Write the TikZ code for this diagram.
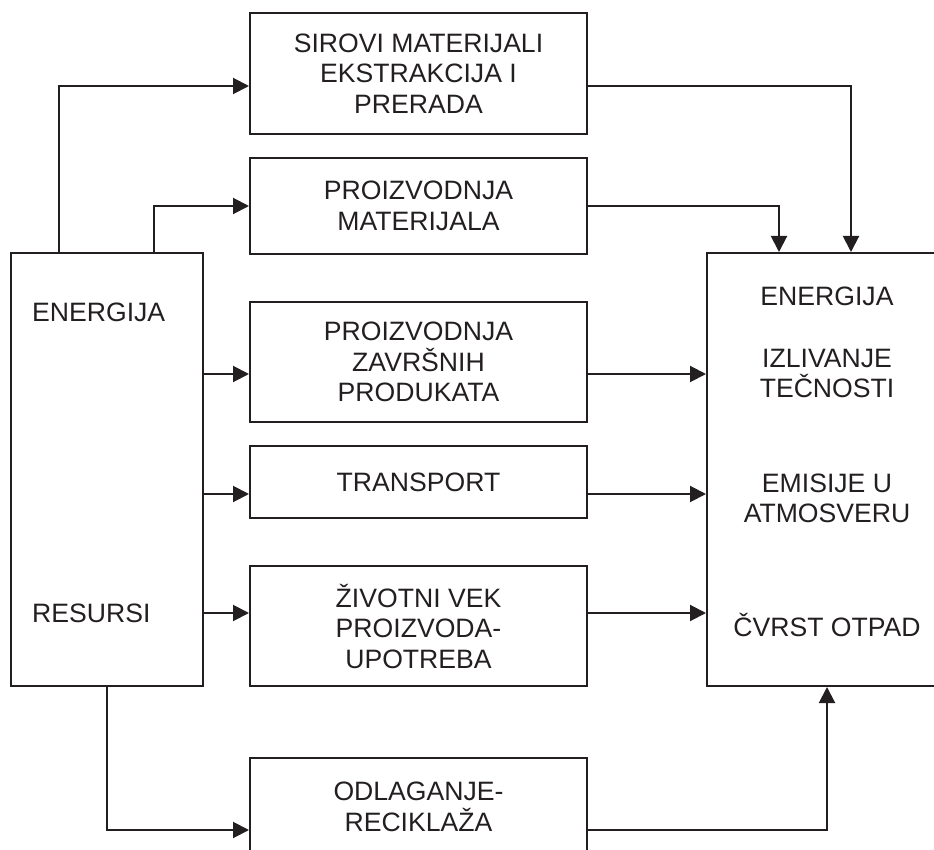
\documentclass[tikz,border=0pt]{standalone}
\usepackage{fontspec}
\setmainfont{Liberation Sans}
\usetikzlibrary{arrows.meta}
\definecolor{ink}{HTML}{231F20}
\tikzset{
  box/.style={draw=ink, line width=2pt, rectangle, inner sep=0pt, align=center, text=ink,
              font=\fontsize{26.6}{30.5}\selectfont},
  lbl/.style={inner sep=0pt, align=center, text=ink, font=\fontsize{26.6}{30.5}\selectfont},
  conn/.style={draw=ink, line width=2pt},
  arr/.style={conn, -{Triangle[length=16pt,width=16pt]}}
}
\begin{document}
\begin{tikzpicture}[x=1pt, y=-1pt]
\useasboundingbox (0,0) rectangle (934,850);
\clip (0,0) rectangle (934,850);
% boxes
\node[box, minimum width=337pt, minimum height=121pt] (src) at (418.5,73.5)
  {SIROVI MATERIJALI\\EKSTRAKCIJA I\\PRERADA};
\node[box, minimum width=337pt, minimum height=96pt] (pmat) at (418.5,206)
  {PROIZVODNJA\\MATERIJALA};
\node[box, minimum width=337pt, minimum height=120pt] (pzav) at (418.5,362)
  {PROIZVODNJA\\ZAVRŠNIH\\PRODUKATA};
\node[box, minimum width=337pt, minimum height=72pt] (trans) at (418.5,482)
  {TRANSPORT};
\node[box, minimum width=337pt, minimum height=120pt] (ziv) at (418.5,626)
  {ŽIVOTNI VEK\\PROIZVODA-\\UPOTREBA};
\node[box, minimum width=337pt, minimum height=98pt] (odl) at (418.5,807)
  {ODLAGANJE-\\RECIKLAŽA};
\node[box, minimum width=192pt, minimum height=433pt] (left) at (107,469.5) {};
\node[box, minimum width=240pt, minimum height=433pt] (right) at (827,469.5) {};
% texts in left box
\node[lbl, anchor=west] (len) at (32,312) {ENERGIJA};
\node[lbl, anchor=west] (lres) at (32,613) {RESURSI};
% texts in right box
\node[lbl] (ren) at (827,296) {ENERGIJA};
\node[lbl] (riz) at (827,373.5) {IZLIVANJE\\TEČNOSTI};
\node[lbl] (rem) at (827,498.5) {EMISIJE U\\ATMOSVERU};
\node[lbl] (rcv) at (827,625) {ČVRST OTPAD};
% helper coordinates
\coordinate (y1) at (0,86);
\coordinate (y2) at (0,206);
\coordinate (y3) at (0,374);
\coordinate (y4) at (0,494);
\coordinate (y5) at (0,613);
\coordinate (y6) at (0,830);
\coordinate (xa) at (59,0);
\coordinate (xb) at (154,0);
\coordinate (xc) at (779,0);
\coordinate (xd) at (851,0);
\coordinate (xe) at (107,0);
\coordinate (xf) at (827,0);
% connectors from left box
\draw[arr] (left.north -| xa) |- (src.west |- y1);
\draw[arr] (left.north -| xb) |- (pmat.west |- y2);
\draw[arr] (left.east |- y3) -- (pzav.west |- y3);
\draw[arr] (left.east |- y4) -- (trans.west |- y4);
\draw[arr] (left.east |- y5) -- (ziv.west |- y5);
\draw[arr] (left.south -| xe) |- (odl.west |- y6);
% connectors to right box
\draw[arr] (src.east |- y1) -| (right.north -| xd);
\draw[arr] (pmat.east |- y2) -| (right.north -| xc);
\draw[arr] (pzav.east |- y3) -- (right.west |- y3);
\draw[arr] (trans.east |- y4) -- (right.west |- y4);
\draw[arr] (ziv.east |- y5) -- (right.west |- y5);
\draw[arr] (odl.east |- y6) -| (right.south -| xf);
\end{tikzpicture}
\end{document}
